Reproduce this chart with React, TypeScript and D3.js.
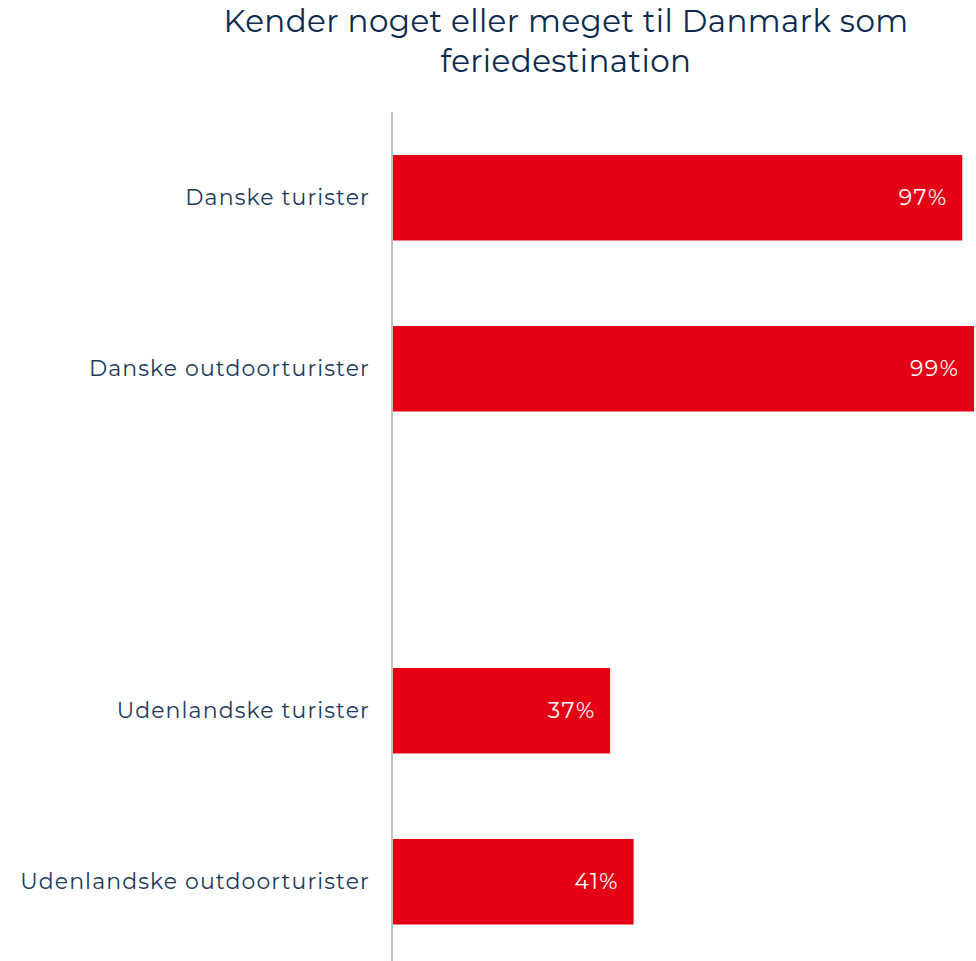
import React from "react";
import * as d3 from "d3";

const categories: string[] = [
  "Danske turister",
  "Danske outdoorturister",
  "",
  "Udenlandske turister",
  "Udenlandske outdoorturister",
];
const values: (number | null)[] = [97, 99, null, 37, 41];
const titleLines: string[] = ["Kender noget eller meget til Danmark som", "feriedestination"];

const W = 976;
const H = 961;
const FONT = "Montserrat, 'Open Sans', sans-serif";

export default function App() {
  const x = d3.scaleLinear().domain([0, 99]).range([393, 974]);
  const y = d3
    .scaleBand<string>()
    .domain(categories.map((c, i) => String(i)))
    .range([155, 924.5])
    .paddingInner(0.5)
    .paddingOuter(0);

  return (
    <svg
      width={W}
      height={H}
      style={{ position: "absolute", left: 0, top: 0, background: "#fff" }}
    >
      <g fontFamily={FONT}>
        {titleLines.map((t, i) => (
          <text
            key={i}
            x={566}
            y={32 + i * 40}
            textAnchor="middle"
            fontSize={31}
            letterSpacing={0.4}
            fill="#0c2a4d"
          >
            {t}
          </text>
        ))}
        {categories.map((c, i) => {
          const v = values[i];
          const yy = y(String(i))!;
          const bw = y.bandwidth();
          return (
            <g key={i}>
              {c && (
                <text
                  x={370}
                  y={yy + bw / 2}
                  textAnchor="end"
                  dominantBaseline="central"
                  fontSize={22}
                  letterSpacing={1.1}
                  fill="#1b3a5e"
                >
                  {c}
                </text>
              )}
              {v != null && (
                <>
                  <rect x={x(0)} y={yy} width={x(v) - x(0)} height={bw} fill="#e60015" />
                  <text
                    x={x(v) - 14.5}
                    y={yy + bw / 2}
                    textAnchor="end"
                    dominantBaseline="central"
                    fontSize={22}
                    letterSpacing={1.5}
                    fill="#ffffff"
                  >
                    {v}%
                  </text>
                </>
              )}
            </g>
          );
        })}
        <line x1={392} x2={392} y1={112} y2={H} stroke="#c0c0c0" strokeWidth={2} />
      </g>
    </svg>
  );
}
